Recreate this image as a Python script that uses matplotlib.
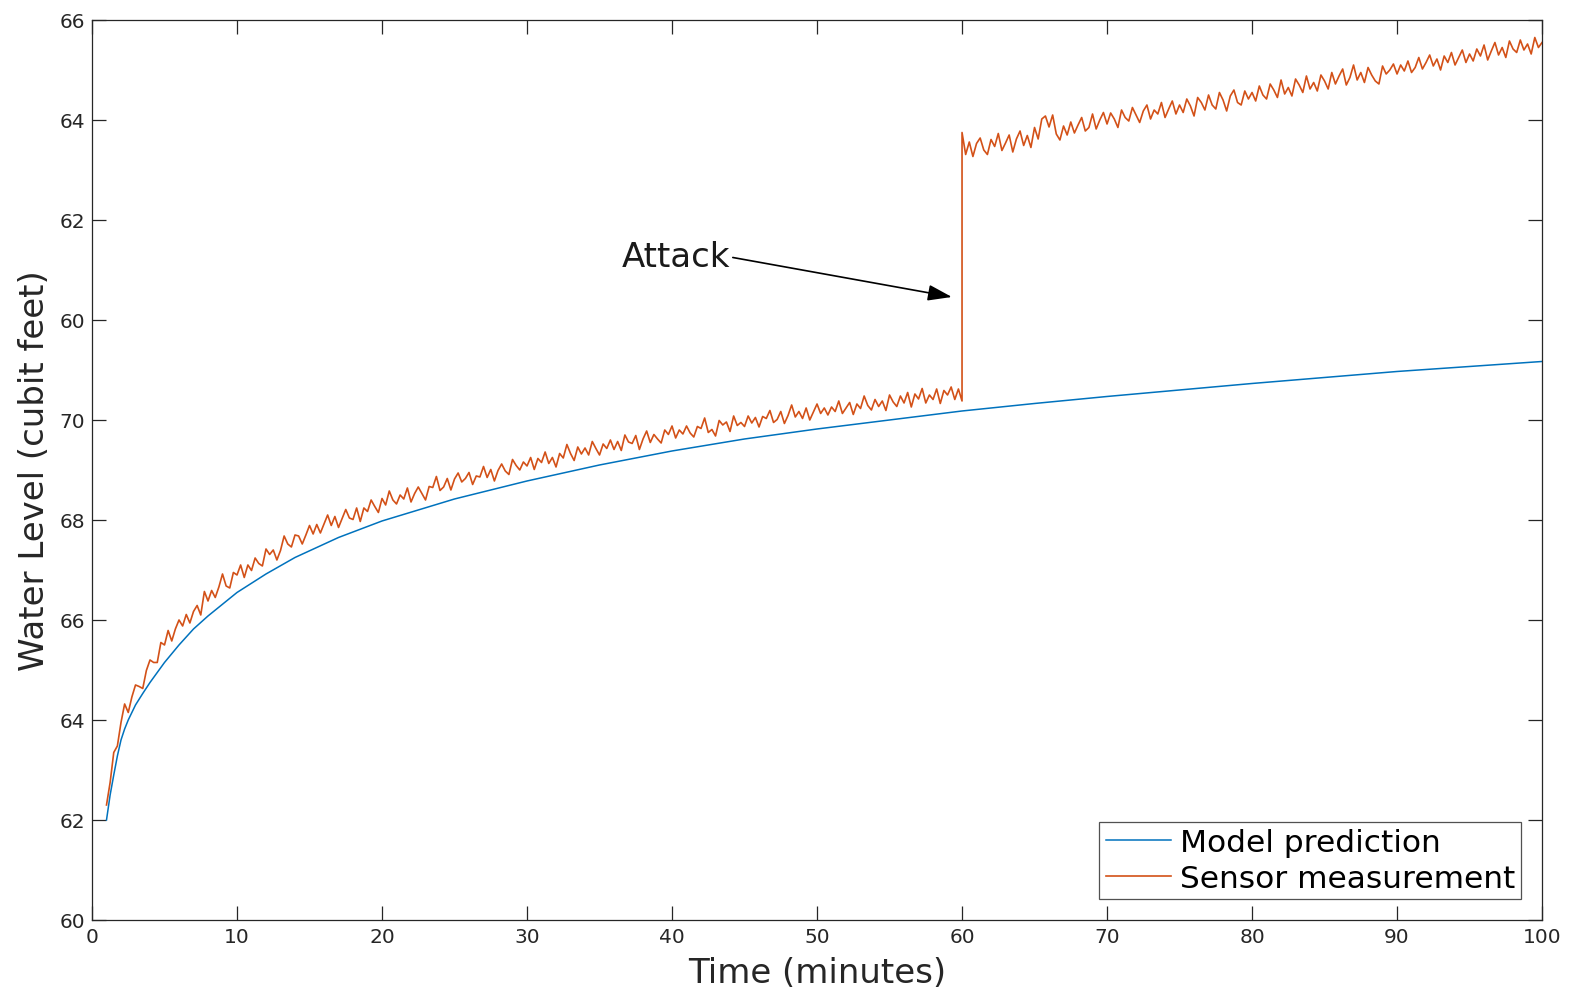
import numpy as np
import matplotlib
matplotlib.use('Agg')
import matplotlib.pyplot as plt

# 模型预测 (平滑曲线)
model_t = [1, 1.25, 1.5, 1.75, 2, 2.25, 2.5, 3, 3.5, 4, 5, 6, 7, 8, 10, 12, 14,
           17, 20, 25, 30, 35, 40, 45, 50, 55, 60, 65, 70, 75, 80, 85, 90, 95, 100]
model_level = [62.0, 62.5, 62.9, 63.28, 63.6, 63.82, 64.0, 64.3, 64.53, 64.75,
               65.15, 65.5, 65.82, 66.08, 66.55, 66.92, 67.25, 67.65, 67.98,
               68.42, 68.78, 69.1, 69.38, 69.62, 69.82, 70.0, 70.18, 70.33,
               70.47, 70.6, 70.73, 70.85, 70.97, 71.07, 71.17]

# 传感器测量 攻击前 (t = 1 .. 60, 每 0.25 分钟)
sensor_before = [
    62.3, 62.75, 63.35, 63.48, 63.95, 64.32, 64.15, 64.46, 64.7, 64.67,
    64.63, 64.99, 65.2, 65.15, 65.15, 65.55, 65.5, 65.79, 65.58, 65.82,
    66.0, 65.88, 66.11, 65.94, 66.17, 66.29, 66.1, 66.57, 66.38, 66.59,
    66.45, 66.66, 66.92, 66.68, 66.64, 66.95, 66.9, 67.1, 66.85, 67.1,
    66.99, 67.24, 67.13, 67.08, 67.42, 67.31, 67.4, 67.2, 67.39, 67.68,
    67.52, 67.46, 67.7, 67.68, 67.52, 67.7, 67.89, 67.72, 67.91, 67.74,
    67.92, 68.1, 67.89, 68.07, 67.85, 68.03, 68.21, 68.04, 68.01, 68.24,
    67.97, 68.24, 68.17, 68.4, 68.27, 68.15, 68.43, 68.3, 68.58, 68.4,
    68.32, 68.5, 68.42, 68.64, 68.36, 68.53, 68.66, 68.53, 68.4, 68.67,
    68.65, 68.87, 68.59, 68.66, 68.83, 68.6, 68.82, 68.94, 68.76, 68.83,
    68.95, 68.71, 68.88, 68.86, 69.07, 68.85, 69.01, 68.78, 68.99, 69.12,
    68.98, 68.91, 69.21, 69.09, 69.0, 69.16, 69.08, 69.25, 69.01, 69.23,
    69.15, 69.36, 69.13, 69.25, 69.06, 69.33, 69.24, 69.51, 69.33, 69.19,
    69.46, 69.32, 69.44, 69.3, 69.57, 69.43, 69.3, 69.52, 69.43, 69.6,
    69.41, 69.57, 69.39, 69.7, 69.56, 69.53, 69.69, 69.41, 69.62, 69.78,
    69.55, 69.71, 69.62, 69.54, 69.8, 69.71, 69.88, 69.64, 69.8, 69.72,
    69.88, 69.74, 69.66, 69.87, 69.83, 70.04, 69.75, 69.81, 69.68, 69.99,
    69.9, 69.96, 69.77, 70.08, 69.89, 69.95, 69.87, 70.08, 69.94, 70.05,
    69.86, 70.07, 70.03, 70.19, 69.95, 70.01, 70.17, 69.93, 70.09, 70.3,
    70.06, 70.17, 70.03, 70.24, 70.0, 70.16, 70.32, 70.13, 70.24, 70.1,
    70.26, 70.17, 70.38, 70.13, 70.24, 70.35, 70.11, 70.32, 70.23, 70.48,
    70.29, 70.2, 70.41, 70.27, 70.38, 70.19, 70.5, 70.36, 70.27, 70.48,
    70.34, 70.55, 70.26, 70.52, 70.42, 70.63, 70.34, 70.5, 70.41, 70.62,
    70.33, 70.59, 70.5, 70.66, 70.41, 70.62, 70.38,
]

# 传感器测量 攻击后 (t = 60 .. 100, 每 0.25 分钟)
sensor_after = [
    75.75, 75.31, 75.56, 75.27, 75.53, 75.64, 75.4, 75.31, 75.61, 75.47,
    75.73, 75.39, 75.54, 75.7, 75.36, 75.62, 75.78, 75.49, 75.69, 75.45,
    75.85, 75.62, 76.02, 76.08, 75.86, 76.1, 75.72, 75.6, 75.88, 75.7,
    75.96, 75.74, 75.9, 76.05, 75.78, 75.85, 76.12, 75.82, 76.0, 76.15,
    75.92, 76.14, 76.02, 75.85, 76.2, 76.05, 75.98, 76.25, 76.1, 75.95,
    76.18, 76.3, 76.02, 76.2, 76.12, 76.35, 76.05, 76.22, 76.38, 76.12,
    76.3, 76.15, 76.42, 76.28, 76.08, 76.45, 76.35, 76.2, 76.5, 76.3,
    76.22, 76.55, 76.4, 76.18, 76.48, 76.6, 76.35, 76.3, 76.58, 76.42,
    76.55, 76.38, 76.68, 76.5, 76.42, 76.72, 76.6, 76.45, 76.8, 76.52,
    76.65, 76.48, 76.82, 76.7, 76.55, 76.88, 76.62, 76.75, 76.58, 76.9,
    76.78, 76.62, 76.95, 76.72, 76.88, 77.02, 76.7, 76.85, 77.1, 76.8,
    76.95, 76.75, 77.05, 76.9, 76.78, 76.72, 77.08, 76.92, 77.0, 77.12,
    76.92, 77.1, 76.98, 77.18, 76.95, 77.05, 77.25, 77.02, 77.15, 77.3,
    77.08, 77.22, 77.0, 77.28, 77.15, 77.35, 77.1, 77.25, 77.4, 77.15,
    77.32, 77.18, 77.42, 77.28, 77.5, 77.2, 77.38, 77.55, 77.3, 77.45,
    77.25, 77.58, 77.42, 77.35, 77.6, 77.4, 77.52, 77.32, 77.65, 77.45,
    77.55,
]

xticks = [0, 10, 20, 30, 40, 50, 60, 70, 80, 90, 100]
yticks = [60, 62, 64, 66, 68, 70, 72, 74, 76, 78]
ytick_labels = ['60', '62', '64', '66', '68', '70', '60', '62', '64', '66']

t_before = 1 + 0.25 * np.arange(len(sensor_before))
t_after = 60 + 0.25 * np.arange(len(sensor_after))
sensor_t = np.concatenate([t_before, t_after])
sensor_level = np.concatenate([sensor_before, sensor_after])

axis_color = '#262626'

fig = plt.figure(figsize=(15.7, 9.95), dpi=100)
ax = fig.add_axes([0.0586, 0.0744, 0.9236, 0.9045])

ax.plot(model_t, model_level, color='#0072BD', lw=1.1, label='Model prediction')
ax.plot(sensor_t, sensor_level, color='#D35118', lw=1.2, label='Sensor measurement')

ax.set_xlim(0, 100)
ax.set_ylim(60, 78)
ax.set_xticks(xticks)
ax.set_yticks(yticks)
ax.set_yticklabels(ytick_labels)
ax.tick_params(direction='in', length=10, width=0.9, top=True, right=True,
               labelsize=14.5, colors=axis_color, pad=5)
for s in ax.spines.values():
    s.set_color(axis_color)
    s.set_linewidth(0.9)

ax.set_xlabel('Time (minutes)', fontsize=24.5, color=axis_color, labelpad=7)
ax.set_ylabel('Water Level (cubit feet)', fontsize=24.5, color=axis_color, labelpad=6)

ax.annotate('Attack', xy=(59.3, 72.46), xytext=(44.0, 73.26), fontsize=24.5,
            ha='right', va='center', color='#1a1a1a',
            arrowprops=dict(arrowstyle='-|>,head_length=0.6,head_width=0.2',
                            color='black', lw=1.2, relpos=(1, 0.5),
                            shrinkA=0, shrinkB=0))

leg = ax.legend(loc='lower right', fontsize=22.5, frameon=True, fancybox=False,
                borderaxespad=0.67, handlelength=2.08, handletextpad=0.29,
                labelspacing=0.22, borderpad=0.2)
leg.get_frame().set_edgecolor(axis_color)
leg.get_frame().set_linewidth(0.9)

plt.savefig('out.png', dpi=100)
